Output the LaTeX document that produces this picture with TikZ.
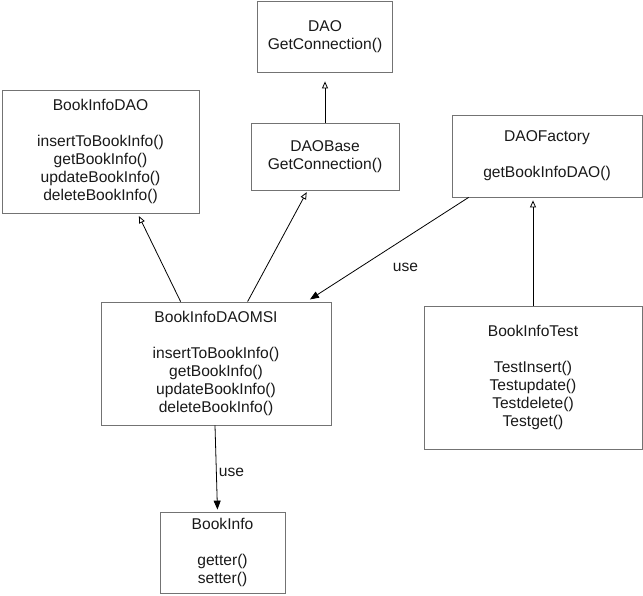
\documentclass[tikz,border=0pt]{standalone}
\usepackage{fontspec}
\setmainfont{Liberation Sans}
\usetikzlibrary{arrows.meta}
\definecolor{boxgray}{gray}{0.45}

\begin{document}
\begin{tikzpicture}[x=1pt, y=-1pt,
    classbox/.style={draw=boxgray, line width=0.8pt, align=center, inner sep=0pt,
        font=\fontsize{15.6}{18}\selectfont, text=black!90},
    inherit/.style={black, line width=0.8pt, -{Triangle[open, length=7pt, width=6pt]}},
    uses/.style={black, line width=0.8pt, -{Triangle[length=9pt, width=7pt]}},
    uselabel/.style={font=\fontsize{15.6}{18}\selectfont, text=black!90}]
    \useasboundingbox (0,0) rectangle (643,595);

    \node [classbox] (dao)     at (325,36.5)  [minimum width=135pt, minimum height=71pt]  {DAO\\ GetConnection()};
    \node [classbox] (bidao)   at (100.5,151.5) [minimum width=197pt, minimum height=123pt] {BookInfoDAO\\[18pt] insertToBookInfo()\\ getBookInfo()\\ updateBookInfo()\\ deleteBookInfo()};
    \node [classbox] (daobase) at (325,156.5) [minimum width=148pt, minimum height=67pt]  {DAOBase\\ GetConnection()};
    \node [classbox] (factory) at (547,156)   [minimum width=190pt, minimum height=82pt]  {DAOFactory\\[18pt] getBookInfoDAO()};
    \node [classbox] (msi)     at (216,363.5) [minimum width=230pt, minimum height=123pt] {BookInfoDAOMSI\\[18pt] insertToBookInfo()\\ getBookInfo()\\ updateBookInfo()\\ deleteBookInfo()};
    \node [classbox] (bitest)  at (533,377.5) [minimum width=218pt, minimum height=143pt] {BookInfoTest\\[18pt] TestInsert()\\ Testupdate()\\ Testdelete()\\ Testget()};
    \node [classbox] (binfo)   at (222.5,552.5) [minimum width=125pt, minimum height=81pt] {BookInfo\\[18pt] getter()\\ setter()};

    % generalisation
    \draw [inherit, shorten >=9pt] (daobase.north) -- (dao.south);
    \draw [inherit, shorten >=3pt] ([xshift=80pt]msi.north west) -- ([xshift=136pt]bidao.south west);
    \draw [inherit, shorten >=2pt] ([xshift=147pt]msi.north west) -- ([xshift=57pt]daobase.south west);
    \draw [inherit, shorten >=3pt] (bitest.north) -- (bitest.north |- factory.south);

    % dependencies
    \draw [uses, shorten >=4pt] ([xshift=17pt]factory.south west) to
        node[pos=0.39, uselabel, yshift=-29pt] {use}
        ([xshift=206pt]msi.north west);
    \draw [uses, shorten >=2pt] ([xshift=-1pt]msi.south) to
        node[midway, right, uselabel, xshift=-1pt, yshift=-4pt] {use}
        ([xshift=-5pt]binfo.north);
\end{tikzpicture}
\end{document}
